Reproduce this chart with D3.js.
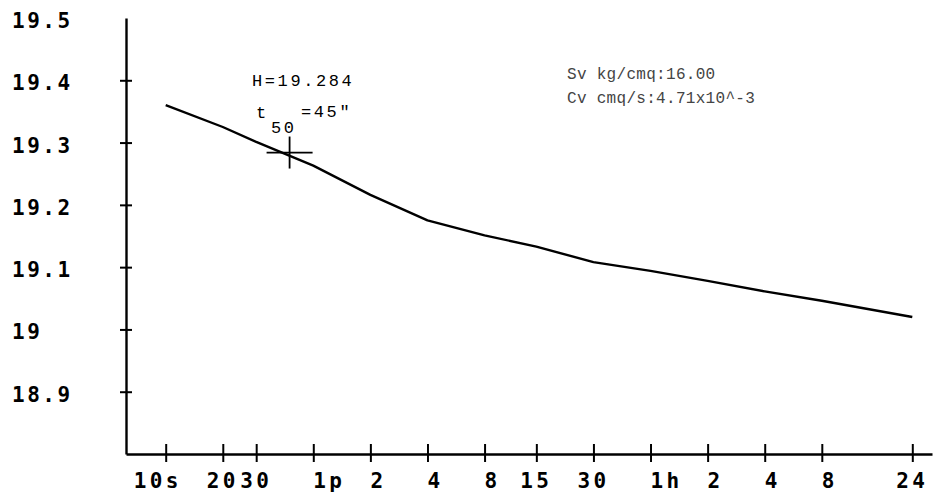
<!DOCTYPE html>
<html>
<head>
<meta charset="utf-8">
<script src="https://cdn.jsdelivr.net/npm/d3@7"></script>
<style>
  body { margin: 0; background: #fff; }
  svg { display: block; }
</style>
</head>
<body>
<svg id="chart" width="934" height="498"></svg>
<script>
// Consolidation curve: specimen height against log of elapsed time
const timeTicks   = [10, 20, 30, 60, 120, 240, 480, 900, 1800, 3600, 7200, 14400, 28800, 86400];
const timeLabels  = ["10s", "20", "30", "1p", "2", "4", "8", "15", "30", "1h", "2", "4", "8", "24"];
const heightTicks  = [18.9, 19.0, 19.1, 19.2, 19.3, 19.4, 19.5];
const heightLabels = ["18.9", "19", "19.1", "19.2", "19.3", "19.4", "19.5"];

// dial readings (seconds, mm)
const readingTimes   = [10, 20, 30, 60, 120, 240, 480, 900, 1800, 3600, 7200, 14400, 28800, 86400];
const readingHeights = [19.360, 19.325, 19.301, 19.263, 19.216, 19.175, 19.151, 19.133, 19.108, 19.094, 19.078, 19.061, 19.046, 19.020];

// 50% consolidation point
const t50 = 45;
const h50 = 19.284;
const t50Text = "45\"";
const h50Text = "H=19.284";

const legendLines = ["Sv kg/cmq:16.00", "Cv cmq/s:4.71x10^-3"];

const W = 934, H = 498;
const svg = d3.select("#chart");

const axisX = 126, axisY = 454, axisRight = 932;

const x = d3.scaleLog().domain([10, 86400]).range([165.7, 912.3]);
x.domain([x.invert(axisX), x.invert(axisRight)]).range([axisX, axisRight]);
const y = d3.scaleLinear().domain([18.8, 19.5]).range([axisY, 18]);

const boldFont = "'DejaVu Sans Mono', monospace";
const thinFont = "'Liberation Mono', 'DejaVu Sans Mono', monospace";

// y axis
const gy = svg.append("g").attr("transform", `translate(${axisX},0)`)
  .call(d3.axisLeft(y).tickValues(heightTicks.filter(v => v < 19.5)).tickFormat("").tickSizeOuter(0));
gy.select(".domain").attr("stroke", "#000").attr("stroke-width", 2.4);
gy.selectAll(".tick line").attr("x1", -6).attr("x2", 6).attr("stroke", "#000").attr("stroke-width", 2);

svg.append("g").selectAll("text").data(heightTicks).join("text")
  .attr("x", 12)
  .attr("y", d => y(d) + 10)
  .attr("font-family", boldFont)
  .attr("font-weight", "bold")
  .attr("font-size", 21)
  .attr("letter-spacing", 2.5)
  .attr("fill", "#000")
  .text((d, i) => heightLabels[i]);

// x axis
const gx = svg.append("g").attr("transform", `translate(0,${axisY})`)
  .call(d3.axisBottom(x).tickValues(timeTicks).tickFormat("").tickSizeOuter(0));
gx.select(".domain").attr("stroke", "#000").attr("stroke-width", 2.4);
gx.selectAll(".tick line").attr("y1", -10).attr("y2", 8).attr("stroke", "#000").attr("stroke-width", 2);

const charStep = 16;
svg.append("g").selectAll("text").data(timeTicks).join("text")
  .attr("x", (d, i) => {
    const lab = timeLabels[i];
    // single digit with a unit letter starts at the tick; otherwise the last character sits on it
    return /^\d[a-z]$/.test(lab) ? x(d) : x(d) - (lab.length - 1) * charStep;
  })
  .attr("y", 488)
  .attr("font-family", boldFont)
  .attr("font-weight", "bold")
  .attr("font-size", 21)
  .attr("letter-spacing", 3.4)
  .attr("fill", "#000")
  .text((d, i) => timeLabels[i]);

// settlement curve
const pts = readingTimes.map((t, i) => [t, readingHeights[i]]);
svg.append("path")
  .datum(pts)
  .attr("fill", "none")
  .attr("stroke", "#000")
  .attr("stroke-width", 2.4)
  .attr("stroke-linejoin", "round")
  .attr("d", d3.line().x(d => x(d[0])).y(d => y(d[1])));

// t50 cross
const cx = x(t50), cy = y(h50);
svg.append("line").attr("x1", cx - 23).attr("x2", cx + 23).attr("y1", cy).attr("y2", cy)
  .attr("stroke", "#000").attr("stroke-width", 1.8);
svg.append("line").attr("x1", cx).attr("x2", cx).attr("y1", cy - 16).attr("y2", cy + 16)
  .attr("stroke", "#000").attr("stroke-width", 1.8);

// annotation
const ann = svg.append("g")
  .attr("font-family", thinFont)
  .attr("font-size", 17)
  .attr("letter-spacing", 2.6)
  .attr("fill", "#000");
ann.append("text").attr("x", 252).attr("y", 86).text(h50Text);
ann.append("text").attr("x", 256).attr("y", 118).text("t");
ann.append("text").attr("x", 271).attr("y", 133).text("50");
ann.append("text").attr("x", 301).attr("y", 117).text("=" + t50Text);

// test parameters
svg.append("g")
  .attr("font-family", thinFont)
  .attr("font-size", 16)
  .attr("letter-spacing", 0.3)
  .attr("fill", "#444")
  .selectAll("text").data(legendLines).join("text")
  .attr("x", 567)
  .attr("y", (d, i) => 79 + i * 24)
  .text(d => d);
</script>
</body>
</html>
